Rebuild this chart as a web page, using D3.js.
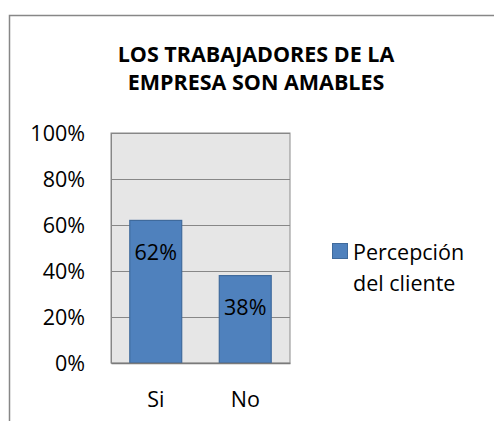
<!DOCTYPE html>
<html>
<head>
<meta charset="utf-8">
<script src="https://cdn.jsdelivr.net/npm/d3@7"></script>
<style>
  body { margin: 0; background: #fff; }
  text { font-family: "Open Sans", "Liberation Sans", sans-serif; fill: #000; }
</style>
</head>
<body>
<div id="container"></div>
<script>
/* DATA */
const categories = ["Si", "No"];
const values = [0.62, 0.38];
const yTicks = [0, 0.2, 0.4, 0.6, 0.8, 1];
const titleLines = ["LOS TRABAJADORES DE LA", "EMPRESA SON AMABLES"];
const legendLines = ["Percepción", "del cliente"];

/* CONSTANTS */
const width = 494, height = 421;
const plot = { left: 111, right: 290, top: 133, bottom: 363 };
const fontSize = "21.5px";

const svg = d3.select("#container")
  .append("svg")
  .attr("width", width)
  .attr("height", height);

// outer frame
svg.append("rect")
  .attr("x", 9.5)
  .attr("y", 15.5)
  .attr("width", width)
  .attr("height", height)
  .attr("fill", "#fff")
  .attr("stroke", "#878787")
  .attr("stroke-width", 1.5);

// SCALES
const xScale = d3.scaleBand()
  .domain(categories)
  .range([plot.left, plot.right])
  .paddingInner(0.42)
  .paddingOuter(0.21);

const yScale = d3.scaleLinear()
  .domain([0, 1])
  .range([plot.bottom, plot.top]);

// plot area background
svg.append("rect")
  .attr("x", plot.left)
  .attr("y", plot.top)
  .attr("width", plot.right - plot.left)
  .attr("height", plot.bottom - plot.top)
  .attr("fill", "#e6e6e6")
  .attr("stroke", "#8c8c8c")
  .attr("stroke-width", 1);

// gridlines
svg.selectAll(".grid")
  .data(yTicks.filter(d => d > 0))
  .join("line")
  .attr("class", "grid")
  .attr("x1", plot.left)
  .attr("x2", plot.right)
  .attr("y1", d => Math.round(yScale(d)) + 0.5)
  .attr("y2", d => Math.round(yScale(d)) + 0.5)
  .attr("stroke", "#878787")
  .attr("stroke-width", 1.2);

// Y AXIS
const yAxis = svg.append("g")
  .attr("transform", `translate(${plot.left},0)`)
  .call(d3.axisLeft(yScale)
    .tickValues(yTicks)
    .tickFormat(d3.format(".0%"))
    .tickSize(0)
    .tickPadding(26));
yAxis.select(".domain").attr("stroke", "#878787");
yAxis.selectAll("text")
  .style("font-size", fontSize)
  .style("font-family", "'Open Sans', sans-serif")
  .attr("dy", "0.36em");

// bars
svg.selectAll(".bar")
  .data(values)
  .join("rect")
  .attr("class", "bar")
  .attr("x", (d, i) => xScale(categories[i]))
  .attr("y", d => yScale(d))
  .attr("width", xScale.bandwidth())
  .attr("height", d => plot.bottom - yScale(d))
  .attr("fill", "#4f81bd")
  .attr("stroke", "#3f6a9c")
  .attr("stroke-width", 1.2);

// X AXIS
const xAxis = svg.append("g")
  .attr("transform", `translate(0,${plot.bottom})`)
  .call(d3.axisBottom(xScale).tickSize(0).tickPadding(0));
xAxis.select(".domain").attr("stroke", "#7a7a7a").attr("stroke-width", 1.5);
xAxis.selectAll("text")
  .style("font-size", fontSize)
  .style("font-family", "'Open Sans', sans-serif")
  .attr("dy", 0)
  .attr("y", 44);

// data labels
svg.selectAll(".label")
  .data(values)
  .join("text")
  .attr("class", "label")
  .attr("x", (d, i) => xScale(categories[i]) + xScale.bandwidth() / 2)
  .attr("y", d => yScale(d) + 39.5)
  .attr("text-anchor", "middle")
  .style("font-size", fontSize)
  .text(d => d3.format(".0%")(d));

// title
svg.selectAll(".title")
  .data(titleLines)
  .join("text")
  .attr("class", "title")
  .attr("x", 256)
  .attr("y", (d, i) => 62 + i * 28)
  .attr("text-anchor", "middle")
  .style("font-size", "21.5px")
  .style("font-weight", "bold")
  .text(d => d);

// legend
svg.append("rect")
  .attr("x", 332.5)
  .attr("y", 243.5)
  .attr("width", 15)
  .attr("height", 15)
  .attr("fill", "#4f81bd")
  .attr("stroke", "#3f6a9c");

svg.selectAll(".legend")
  .data(legendLines)
  .join("text")
  .attr("class", "legend")
  .attr("x", 353)
  .attr("y", (d, i) => 260 + i * 31)
  .style("font-size", fontSize)
  .text(d => d);
</script>
</body>
</html>
